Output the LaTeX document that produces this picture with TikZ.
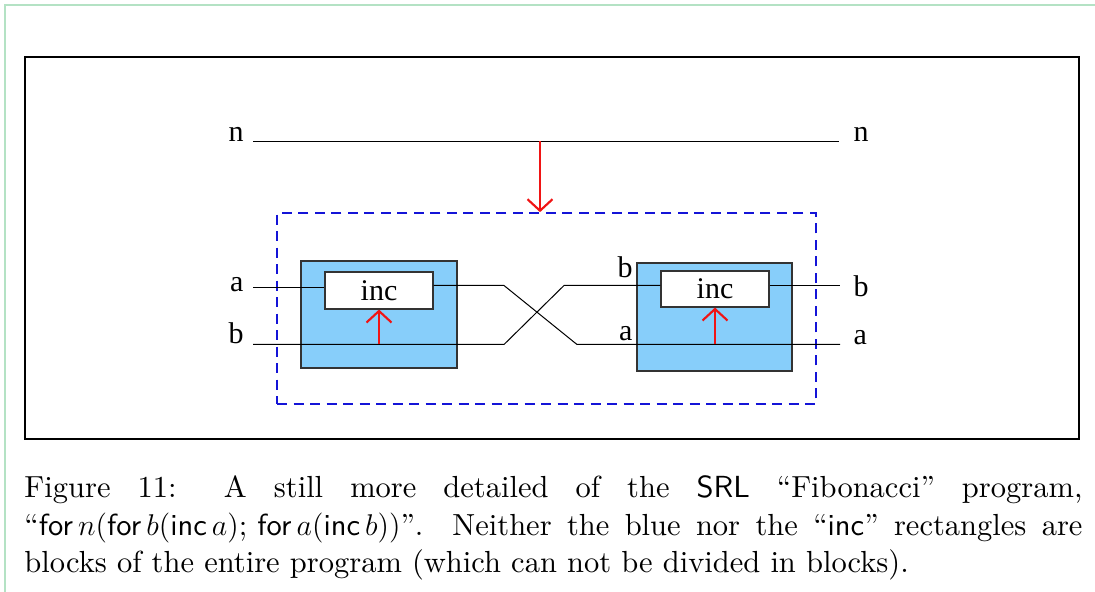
\documentclass[tikz,border=0pt]{standalone}
\usepackage{fontspec}
\usetikzlibrary{arrows.meta,fit}
\newfontfamily\labelfont{Liberation Serif}
\newfontfamily\capfont[Ligatures=TeX]{lmroman10-regular.otf}
\newfontfamily\capsans[Ligatures=TeX]{lmsans10-regular.otf}
\newcommand\sftxt[1]{{\capsans #1}}
\definecolor{framegreen}{RGB}{180,226,196}
\definecolor{boxblue}{RGB}{135,206,250}
\definecolor{dashblue}{RGB}{20,20,215}
\definecolor{arrowred}{RGB}{240,20,20}
\tikzset{
  wire/.style={line width=0.4pt, black},
  bluebox/.style={draw=black!80, line width=0.45pt, fill=boxblue, inner sep=0pt},
  incbox/.style={draw=black!80, line width=0.45pt, fill=white, inner sep=0pt},
  inctext/.style={inner sep=0pt, font=\labelfont\fontsize{12}{14}\selectfont},
  loopbox/.style={draw=dashblue, line width=0.65pt, dash pattern=on 4pt off 2.6pt, inner sep=0pt},
  ctrl/.style={draw=arrowred, line width=0.85pt,
    -{Straight Barb[length=4.6pt,width=10pt,line width=0.85pt]}},
  wirelabel/.style={inner sep=0pt, font=\labelfont\fontsize{12}{14}\selectfont},
}
\begin{document}
\begin{tikzpicture}[x=0.4pt,y=-0.4pt]
  \useasboundingbox (0,0) rectangle (1095,592);
  % page frame
  \draw[framegreen, line width=0.8pt] (5,592) -- (5,5) -- (1095,5);
  % figure frame
  \node[draw=black, line width=0.5pt, inner sep=0pt, fit={(25,57)(1079,439)}] (frame) {};

  % boxes
  \node[loopbox, fit={(277,213)(816,404)}] (loop) {};
  \node[bluebox, fit={(301,261)(457,368)}] (B1) {};
  \node[bluebox, fit={(637,263)(792,371)}] (B2) {};
  \node[incbox, fit={(325,272)(433,309)}] (I1) {};
  \node[incbox, fit={(661,271)(769,307)}] (I2) {};
  \node[inctext] (t1) at (I1.center) {inc};
  \node[inctext] (t2) at (I2.center) {inc};

  % wire end points
  \coordinate (nin)  at (253,141.5);
  \coordinate (nout) at (839,141.5);
  \coordinate (nmid) at (540,141.5);
  \coordinate (ain)  at (253,287.5);
  \coordinate (bin)  at (253,344.5);
  \coordinate (aout1) at (504,285.5);
  \coordinate (bout1) at (504,344.5);
  \coordinate (ain2) at (577,344.5);
  \coordinate (bin2) at (564,285.5);
  \coordinate (bout) at (840,285.5);
  \coordinate (aout) at (840,344.5);
  \coordinate (bctl1) at (I1.south |- bin);
  \coordinate (actl2) at (I2.south |- aout);

  % wires
  \draw[wire] (nin) -- (nout);
  \draw[wire] (ain) -- (ain -| I1.west);
  \draw[wire] (I1.east |- aout1) -- (aout1) -- (ain2) -- (aout);
  \draw[wire] (bin) -- (bout1) -- (bin2) -- (bin2 -| I2.west);
  \draw[wire] (I2.east |- bout) -- (bout);

  % control arrows
  \draw[ctrl] (nmid) -- (nmid |- loop.north);
  \draw[ctrl] (bctl1) -- (I1.south);
  \draw[ctrl] (actl2) -- (I2.south);

  % wire labels
  \node[wirelabel, anchor=base east] (ln) at (244,142) {n};
  \node[wirelabel, anchor=base west] (rn) at (853,142) {n};
  \node[wirelabel, anchor=base east] (la) at (244,292) {a};
  \node[wirelabel, anchor=base east] (lb) at (244,344) {b};
  \node[wirelabel, anchor=base west] (rb) at (853,297) {b};
  \node[wirelabel, anchor=base west] (ra) at (853,345) {a};
  \node[wirelabel, anchor=base east] (mb) at (633,278) {b};
  \node[wirelabel, anchor=base east] (ma) at (633,341) {a};

  % caption
  \node[inner sep=0pt, anchor=base west, text width=423.2pt, align=justify,
        font=\capfont\fontsize{12.2}{14.85}\selectfont] (cap) at (24,498)
  {Figure 11: A still more detailed of the \sftxt{SRL} ``Fibonacci'' program,
   \mbox{``\sftxt{for}\,$n($\sftxt{for}\,$b($\sftxt{inc}\,$a)$; \sftxt{for}\,$a($\sftxt{inc}\,$b))$''}.
   Neither the blue nor the ``\sftxt{inc}'' rectangles are blocks of the entire
   program (which can not be divided in blocks).};
\end{tikzpicture}
\end{document}
